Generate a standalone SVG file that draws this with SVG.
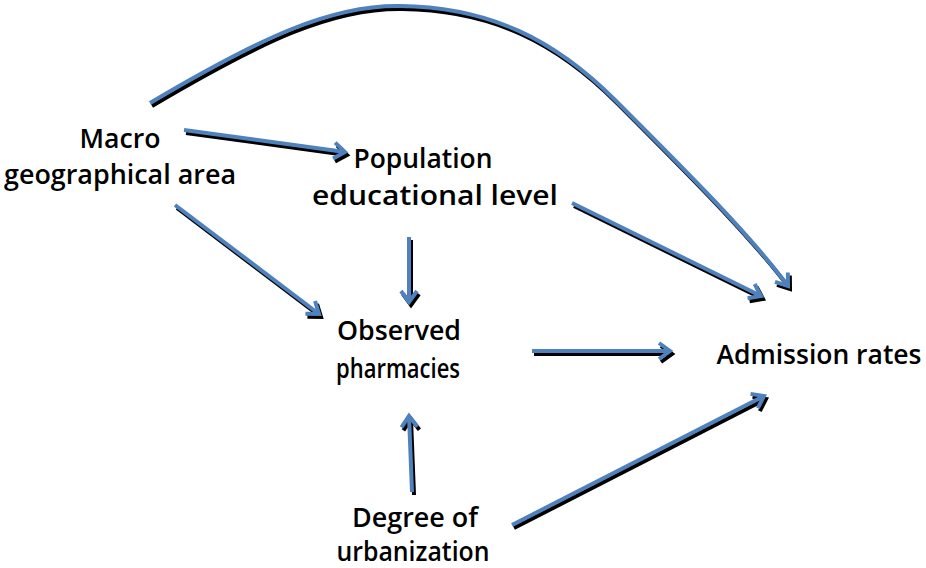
<svg xmlns="http://www.w3.org/2000/svg" xmlns:xlink="http://www.w3.org/1999/xlink" width="926" height="568" viewBox="0 0 926 568">
<style>
.lbl{font-family:"Open Sans","Noto Sans","Liberation Sans",sans-serif;font-size:27px;font-weight:600;fill:#000;text-anchor:middle}
.sh{stroke:#000;fill:none;stroke-width:4;stroke-linejoin:miter;marker-end:url(#hk)}
.mn{stroke:#4f81bd;fill:none;stroke-width:4;stroke-linejoin:miter;marker-end:url(#hb)}
</style>
<defs>
<marker id="hb" markerUnits="userSpaceOnUse" orient="auto" refX="0" refY="0" markerWidth="20" markerHeight="20" overflow="visible">
<path d="M-11,-8 L0,0 L-11,8" fill="none" stroke="#4f81bd" stroke-width="4"/>
</marker>
<marker id="hk" markerUnits="userSpaceOnUse" orient="auto" refX="0" refY="0" markerWidth="20" markerHeight="20" overflow="visible">
<path d="M-11,-8 L0,0 L-11,8" fill="none" stroke="#000" stroke-width="4"/>
</marker>
<path id="a1" d="M184,130 L345,152"/>
<path id="a2" d="M175,205 L319,314"/>
<path id="a3" d="M409,237 L409,302"/>
<path id="a4" d="M532,351 L670,351"/>
<path id="a5" d="M572,203 L761,296"/>
<path id="a6" d="M150,103 C260,38 330,5 400,6 C490,7 555,40 615,100 C690,175 750,235 788,286"/>
<path id="a7" d="M412,492 L409,416"/>
<path id="a8" d="M512,525 L764,396"/>
</defs>
<g id="connectors">
<use xlink:href="#a1" href="#a1" class="sh" transform="translate(2,3)"/><use xlink:href="#a1" href="#a1" class="mn"/>
<use xlink:href="#a2" href="#a2" class="sh" transform="translate(2,3)"/><use xlink:href="#a2" href="#a2" class="mn"/>
<use xlink:href="#a3" href="#a3" class="sh" transform="translate(2,3)"/><use xlink:href="#a3" href="#a3" class="mn"/>
<use xlink:href="#a4" href="#a4" class="sh" transform="translate(2,3)"/><use xlink:href="#a4" href="#a4" class="mn"/>
<use xlink:href="#a5" href="#a5" class="sh" transform="translate(2,3)"/><use xlink:href="#a5" href="#a5" class="mn"/>
<use xlink:href="#a6" href="#a6" class="sh" transform="translate(2,3)"/><use xlink:href="#a6" href="#a6" class="mn"/>
<use xlink:href="#a7" href="#a7" class="sh" transform="translate(2,3)"/><use xlink:href="#a7" href="#a7" class="mn"/>
<use xlink:href="#a8" href="#a8" class="sh" transform="translate(2,3)"/><use xlink:href="#a8" href="#a8" class="mn"/>
</g>
<g id="macro">
<text class="lbl" x="120" y="148" textLength="81" lengthAdjust="spacingAndGlyphs">Macro</text>
<text class="lbl" x="120" y="184" textLength="232" lengthAdjust="spacingAndGlyphs">geographical area</text>
</g>
<g id="population">
<text class="lbl" x="423" y="168" textLength="139" lengthAdjust="spacingAndGlyphs">Population</text>
<text class="lbl" x="435" y="205" textLength="246" lengthAdjust="spacingAndGlyphs">educational level</text>
</g>
<g id="pharmacies">
<text class="lbl" x="399" y="340" textLength="124" lengthAdjust="spacingAndGlyphs">Observed</text>
<text class="lbl" x="398" y="378" textLength="124" lengthAdjust="spacingAndGlyphs">pharmacies</text>
</g>
<g id="admission">
<text class="lbl" x="819" y="364" textLength="205" lengthAdjust="spacingAndGlyphs">Admission rates</text>
</g>
<g id="urbanization">
<text class="lbl" x="415" y="527" textLength="126" lengthAdjust="spacingAndGlyphs">Degree of</text>
<text class="lbl" x="413" y="561" textLength="153" lengthAdjust="spacingAndGlyphs">urbanization</text>
</g>
</svg>
